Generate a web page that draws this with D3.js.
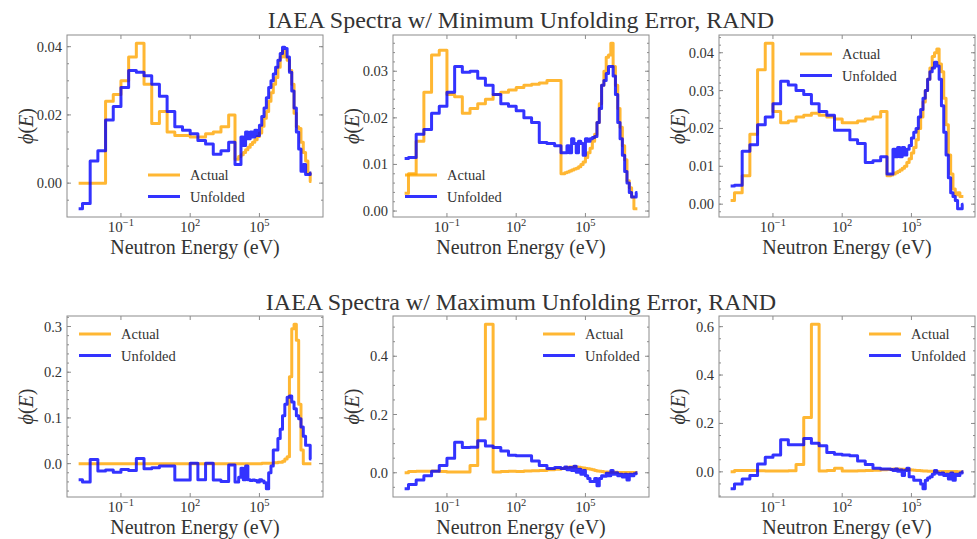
<!DOCTYPE html>
<html><head><meta charset="utf-8">
<script src="https://cdn.jsdelivr.net/npm/d3@7"></script>
<style>
body{margin:0;background:#fff;}
svg{display:block;}
text{font-family:"Liberation Serif","Times New Roman",serif;fill:#333;}
</style>
</head><body>
<svg id="c" width="977" height="539"></svg>
<script>
// Energy points (eV) of the group structure
const energy = [
 1.468e-3, 3.162e-3, 6.813e-3, 1.468e-2, 3.162e-2, 6.813e-2, 0.1468, 0.3162, 0.6813, 1.468, 3.162,
 6.813, 14.68, 31.62, 68.13, 146.8, 316.2, 681.3, 1468, 3162, 6813,
 1.122e4, 1.413e4, 1.778e4, 2.239e4, 2.818e4, 3.548e4, 4.467e4, 5.623e4, 7.079e4, 8.913e4,
 1.122e5, 1.413e5, 1.778e5, 2.239e5, 2.818e5, 3.548e5, 4.467e5, 5.623e5, 7.079e5, 8.913e5,
 1.122e6, 1.413e6, 1.778e6, 2.239e6, 2.818e6, 3.548e6, 4.467e6, 5.623e6, 7.079e6, 8.913e6,
 1.122e7, 1.413e7, 1.778e7
];

const titles = ["IAEA Spectra w/ Minimum Unfolding Error, RAND", "IAEA Spectra w/ Maximum Unfolding Error, RAND"];
const xTickExp = [-1, 2, 5];
const xLabel = "Neutron Energy (eV)";
const legendLabels = ["Actual", "Unfolded"];

// Row 1: minimum error
const actual1 = [0,0,0,0,0.024,0.026,0.030,0.037,0.041,0.029,0.0175,0.021,0.015,0.014,0.014,0.0135,0.0135,0.0145,0.015,0.0165,0.020,
 0.007,0.0078,0.0083,0.009,0.0098,0.0105,0.0113,0.012,0.0127,0.0137,0.0147,0.0167,0.019,0.021,0.024,0.0265,0.029,0.031,0.034,0.037,
 0.0387,0.037,0.036,0.033,0.029,0.0205,0.0165,0.016,0.012,0.009,0.0065,0.003,0.0005];
const unfolded1 = [-0.0075,-0.006,0.0065,0.0095,0.0185,0.0225,0.028,0.033,0.0325,0.0315,0.029,0.0255,0.021,0.0165,0.0155,0.0145,0.0125,0.0115,0.0085,0.0095,0.012,
 0.0055,0.0055,0.0135,0.011,0.015,0.013,0.015,0.0135,0.0155,0.014,0.017,0.0195,0.022,0.025,0.028,0.030,0.032,0.034,0.036,0.038,
 0.0398,0.0395,0.037,0.0325,0.027,0.022,0.015,0.010,0.0035,0.0055,0.0025,0.0025,0.003];
const actual2 = [0.0038,0.008,0.015,0.0255,0.0335,0.0345,0.025,0.0245,0.021,0.022,0.023,0.024,0.025,0.0255,0.026,0.0265,0.027,0.0272,0.0275,0.028,0.028,
 0.008,0.0082,0.0084,0.0086,0.0088,0.009,0.0092,0.0095,0.010,0.0105,0.0115,0.0125,0.0135,0.015,0.0165,0.019,0.023,0.027,0.030,0.033,
 0.0335,0.036,0.031,0.027,0.022,0.018,0.014,0.011,0.0065,0.005,0.003,0.0005,0.0005];
const unfolded2 = [0.0113,0.0115,0.0165,0.0175,0.021,0.0225,0.0255,0.031,0.0298,0.030,0.0285,0.027,0.025,0.023,0.0225,0.0215,0.020,0.019,0.0147,0.0145,0.014,
 0.0125,0.0125,0.014,0.0125,0.0155,0.0145,0.0125,0.015,0.0145,0.012,0.0155,0.015,0.0155,0.0158,0.016,0.019,0.022,0.027,0.028,0.0295,
 0.031,0.031,0.029,0.025,0.019,0.0155,0.012,0.0085,0.006,0.004,0.003,0.003,0.004];
const actual3 = [0.001,0.003,0.0075,0.0185,0.0355,0.0425,0.0245,0.0215,0.022,0.023,0.0235,0.024,0.0235,0.023,0.0225,0.0215,0.0215,0.022,0.0225,0.023,0.0245,
 0.0075,0.0077,0.008,0.0083,0.0086,0.009,0.0095,0.010,0.011,0.012,0.0135,0.015,0.017,0.020,0.023,0.027,0.030,0.033,0.036,0.039,
 0.040,0.041,0.037,0.035,0.028,0.021,0.013,0.008,0.004,0.0025,0.003,0.002,0.002];
const unfolded3 = [0.0048,0.005,0.014,0.0157,0.021,0.023,0.0265,0.0325,0.0315,0.030,0.029,0.0265,0.0245,0.0235,0.0195,0.0195,0.017,0.016,0.011,0.0115,0.0125,
 0.008,0.008,0.0145,0.0125,0.015,0.0125,0.015,0.013,0.0145,0.0155,0.0175,0.019,0.020,0.023,0.025,0.028,0.030,0.033,0.035,0.036,
 0.0375,0.0365,0.033,0.026,0.019,0.013,0.007,0.003,0.002,0.001,-0.0012,-0.0012,0.0];

// Row 2: maximum error
const actual4 = [0,0,0,0,0,0,0,0,0,0,0,0,0,0,0,0,0,0,0,0,0,
 0,0,0,0,0,0,0,0,0,0,0,0.001,0.001,0.001,0.001,0.001,0.002,0.002,0.003,0.003,
 0.005,0.01,0.015,0.19,0.295,0.305,0.27,0.13,0.03,0,0,0,0];
const unfolded4 = [-0.035,-0.04,0.009,-0.016,-0.014,-0.019,-0.013,-0.015,0.011,-0.011,-0.009,-0.005,-0.005,-0.036,-0.036,0.001,-0.035,0.001,-0.036,-0.039,-0.003,
 -0.04,-0.03,-0.01,-0.035,-0.005,-0.035,-0.037,-0.036,-0.037,-0.04,-0.035,-0.038,-0.042,-0.055,-0.02,-0.005,0.03,0.03,0.055,0.075,
 0.105,0.13,0.145,0.148,0.135,0.12,0.105,0.098,0.08,0.06,0.04,0.04,0.01];
const actual5 = [0.0,0.004,0.005,0.005,0.006,0.004,0.003,0.003,0.003,0.025,0.185,0.51,0.003,0.004,0.005,0.004,0.006,0.007,0.008,0.010,0.012,
 0.015,0.017,0.019,0.020,0.020,0.021,0.020,0.019,0.017,0.016,0.015,0.014,0.012,0.010,0.008,0.006,0.005,0.004,0.003,0.003,
 0.002,0.002,0.002,0.002,0.001,0.001,0.001,0.001,0.001,0.001,0.0005,0.0005,0.0005];
const unfolded5 = [-0.055,-0.04,-0.025,-0.01,0.005,0.025,0.05,0.105,0.087,0.088,0.11,0.092,0.087,0.075,0.06,0.058,0.058,0.04,0.025,0.015,0.018,
 0.015,0.02,0.01,0.018,0.008,0.022,0.002,0.012,-0.005,0.008,-0.01,-0.02,-0.03,-0.03,-0.02,-0.045,-0.02,-0.01,-0.012,-0.002,
 -0.01,0.008,-0.005,0.0,-0.01,-0.005,-0.015,-0.005,-0.025,-0.005,-0.01,-0.003,0.0];
const actual6 = [0.0,0.006,0.006,0.005,0.004,0.003,0.003,0.003,0.004,0.03,0.225,0.61,0.003,0.005,0.015,0.003,0.003,0.004,0.005,0.007,0.009,
 0.010,0.011,0.012,0.012,0.012,0.011,0.011,0.010,0.010,0.009,0.008,0.007,0.006,0.005,0.004,0.003,0.003,0.002,0.002,0.002,
 0.001,0.001,0.001,0.001,0.001,0.001,0.001,0.001,0.001,0.001,0.0005,0.0005,0.0005];
const unfolded6 = [-0.07,-0.05,-0.03,-0.015,0.032,0.06,0.07,0.133,0.112,0.112,0.138,0.118,0.108,0.08,0.073,0.07,0.066,0.045,0.03,0.015,0.012,
 0.012,0.01,0.005,0.012,0.002,0.008,-0.015,0.005,0.015,-0.02,-0.02,-0.035,-0.035,-0.035,-0.05,-0.07,-0.035,-0.025,-0.02,-0.01,
 0.005,-0.005,-0.01,-0.005,-0.015,-0.01,-0.03,-0.005,-0.035,-0.01,-0.015,-0.005,0.0];

const yTickStep = [0.02, 0.01, 0.01, 0.1, 0.2, 0.2];
const yMinorStep = [0.005, 0.002, 0.002, 0.02, 0.05, 0.05];
const yDigits = [2, 2, 2, 1, 1, 1];

// ---------- layout / style ----------
const panels = [
  {x:67,  y:35,  w:256, h:182, leg:[81,140], a:actual1, u:unfolded1},
  {x:393, y:35,  w:256, h:182, leg:[12,140], a:actual2, u:unfolded2},
  {x:719, y:35,  w:256, h:182, leg:[81,19],  a:actual3, u:unfolded3},
  {x:67,  y:316, w:256, h:181, leg:[12,18],  a:actual4, u:unfolded4},
  {x:393, y:316, w:256, h:181, leg:[150,18], a:actual5, u:unfolded5},
  {x:719, y:316, w:256, h:181, leg:[150,18], a:actual6, u:unfolded6}
];
const titlePos = [{x:521, y:28}, {x:521, y:310}];
const colA = "#FFA500", colU = "#0000FF", alpha = 0.8, lw = 3;
const frameCol = "#8c8c8c";

const svg = d3.select("#c");

titles.forEach((t,i)=>{
  svg.append("text").attr("x",titlePos[i].x).attr("y",titlePos[i].y)
    .attr("text-anchor","middle").attr("font-size",24).text(t);
});

const lx0 = Math.log10(d3.min(energy)), lx1 = Math.log10(d3.max(energy));
const xpad = (lx1-lx0)*0.05;

panels.forEach((p,i)=>{
  const g = svg.append("g").attr("transform",`translate(${p.x},${p.y})`);
  const x = d3.scaleLog().domain([Math.pow(10,lx0-xpad), Math.pow(10,lx1+xpad)]).range([0,p.w]);
  const all = p.a.concat(p.u);
  const ymin = d3.min(all), ymax = d3.max(all), yp = (ymax-ymin)*0.05;
  const y = d3.scaleLinear().domain([ymin-yp, ymax+yp]).range([p.h,0]);

  const line = d3.line().curve(d3.curveStep).x(d=>x(d[0])).y(d=>y(d[1]));
  const pts = arr => energy.map((e,k)=>[e, arr[k]]);

  g.append("path").attr("d", line(pts(p.a))).attr("fill","none")
    .attr("stroke",colA).attr("stroke-opacity",alpha).attr("stroke-width",lw).attr("stroke-linejoin","round");
  g.append("path").attr("d", line(pts(p.u))).attr("fill","none")
    .attr("stroke",colU).attr("stroke-opacity",alpha).attr("stroke-width",lw).attr("stroke-linejoin","round");

  // frame
  g.append("rect").attr("x",0).attr("y",0).attr("width",p.w).attr("height",p.h)
    .attr("fill","none").attr("stroke",frameCol).attr("stroke-width",1);

  // y ticks
  const [d0,d1] = y.domain();
  const st = yTickStep[i], ms = yMinorStep[i];
  for(let k=Math.ceil(d0/ms-1e-9); k<=Math.floor(d1/ms+1e-9); k++){
    const v = k*ms, yy = y(v);
    g.append("line").attr("x1",0).attr("x2",2).attr("y1",yy).attr("y2",yy).attr("stroke",frameCol);
    g.append("line").attr("x1",p.w).attr("x2",p.w-2).attr("y1",yy).attr("y2",yy).attr("stroke",frameCol);
  }
  for(let k=Math.ceil(d0/st-1e-9); k<=Math.floor(d1/st+1e-9); k++){
    const v = k*st, yy = y(v);
    g.append("line").attr("x1",0).attr("x2",4).attr("y1",yy).attr("y2",yy).attr("stroke",frameCol);
    g.append("line").attr("x1",p.w).attr("x2",p.w-4).attr("y1",yy).attr("y2",yy).attr("stroke",frameCol);
    g.append("text").attr("x",-5).attr("y",yy+5).attr("text-anchor","end").attr("font-size",14.5)
      .text((Math.abs(v)<1e-12?0:v).toFixed(yDigits[i]));
  }
  // x ticks
  xTickExp.forEach(ex=>{
    const xx = x(Math.pow(10,ex));
    g.append("line").attr("x1",xx).attr("x2",xx).attr("y1",p.h).attr("y2",p.h-4).attr("stroke",frameCol);
    g.append("line").attr("x1",xx).attr("x2",xx).attr("y1",0).attr("y2",4).attr("stroke",frameCol);
    const t = g.append("text").attr("x",xx).attr("y",p.h+15).attr("text-anchor","middle").attr("font-size",15);
    t.append("tspan").text("10");
    t.append("tspan").attr("dy",-6).attr("font-size",10.5).text(ex<0 ? "\u2212"+(-ex) : String(ex));
  });
  // axis labels
  g.append("text").attr("x",p.w/2).attr("y",p.h+37).attr("text-anchor","middle").attr("font-size",20).text(xLabel);
  const yl = g.append("text").attr("transform",`translate(-34,${p.h/2}) rotate(-90)`)
    .attr("text-anchor","middle").attr("font-size",20);
  yl.append("tspan").attr("font-style","italic").text("\u03D5");
  yl.append("tspan").text("(");
  yl.append("tspan").attr("font-style","italic").text("E");
  yl.append("tspan").text(")");

  // legend
  const [lx,ly] = p.leg;
  [[colA,legendLabels[0]],[colU,legendLabels[1]]].forEach((c,k)=>{
    const yy = ly + k*21.5;
    g.append("line").attr("x1",lx).attr("x2",lx+32).attr("y1",yy).attr("y2",yy)
      .attr("stroke",c[0]).attr("stroke-opacity",alpha).attr("stroke-width",lw);
    g.append("text").attr("x",lx+42).attr("y",yy+5).attr("font-size",14.5).text(c[1]);
  });
});
</script>
</body></html>
